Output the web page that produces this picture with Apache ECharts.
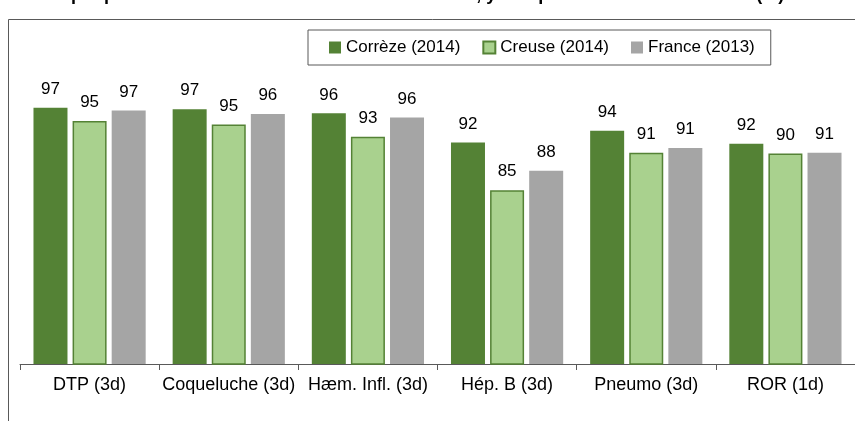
<!DOCTYPE html>
<html>
<head>
<meta charset="utf-8">
<script src="https://cdn.jsdelivr.net/npm/echarts@6/dist/echarts.min.js"></script>
<style>
  html, body { margin: 0; padding: 0; background: #fff; }
  #main { width: 855px; height: 421px; }
</style>
</head>
<body>
<div id="main"></div>
<script>
// données (en %)
var categories = ['DTP (3d)', 'Coqueluche (3d)', 'Hæm. Infl. (3d)', 'Hép. B (3d)', 'Pneumo (3d)', 'ROR (1d)'];
var seriesNames = ['Corrèze (2014)', 'Creuse (2014)', 'France (2013)'];
var correze = [97.0, 96.8, 96.2, 92.0, 93.7, 91.8];
var creuse = [95.1, 94.6, 92.8, 85.1, 90.5, 90.4];
var france = [96.6, 96.1, 95.6, 87.9, 91.2, 90.5];

var FONT = "'Liberation Sans', Arial, sans-serif";

var myChart = echarts.init(document.getElementById('main'));

function barSeries(name, data, color, border) {
    return {
        name: name,
        type: 'bar',
        data: data,
        barWidth: 34,
        barGap: '15%',
        itemStyle: {
            color: color,
            borderColor: border || color,
            borderWidth: border ? 1.5 : 0
        },
        label: {
            show: true,
            position: 'top',
            distance: 10,
            fontFamily: FONT,
            fontSize: 17,
            color: '#000',
            formatter: function (p) { return Math.round(p.value); }
        }
    };
}

var options = {
    animation: false,
    textStyle: { fontFamily: FONT },
    graphic: [
        {
            type: 'rect',
            shape: { x: 8.5, y: 19.5, width: 900, height: 450 },
            style: { fill: 'none', stroke: '#595959', lineWidth: 1 },
            z: 0
        },
        {
            // titre coupé en haut de l'image
            type: 'text',
            x: 40,
            y: 4,
            style: {
                text: 'Graphique 4 : Couverture vaccinale selon le vaccin, y compris en nombre de doses (%) à',
                fontFamily: FONT,
                fontWeight: 'bold',
                fontSize: 18,
                fill: '#000',
                verticalAlign: 'bottom'
            }
        }
    ],
    legend: {
        data: seriesNames,
        left: 308,
        top: 30,
        padding: [9, 16, 9, 21],
        itemWidth: 12,
        itemHeight: 12,
        itemGap: 22,
        icon: 'rect',
        borderColor: '#595959',
        borderWidth: 1,
        textStyle: { fontFamily: FONT, fontSize: 17, color: '#000' }
    },
    grid: { left: 20, top: 87, width: 843, height: 277 },
    xAxis: {
        type: 'category',
        data: categories,
        axisLine: { lineStyle: { color: '#595959', width: 1 } },
        axisTick: { show: true, length: 6, lineStyle: { color: '#595959' } },
        axisLabel: { fontFamily: FONT, fontSize: 18, color: '#000', margin: 12, interval: 0 }
    },
    yAxis: {
        type: 'value',
        min: 60,
        max: 100,
        show: false,
        splitLine: { show: false }
    },
    series: [
        barSeries(seriesNames[0], correze, '#548235'),
        barSeries(seriesNames[1], creuse, '#A9D18E', '#548235'),
        barSeries(seriesNames[2], france, '#A5A5A5')
    ]
};
myChart.setOption(options, true);
</script>
</body>
</html>
